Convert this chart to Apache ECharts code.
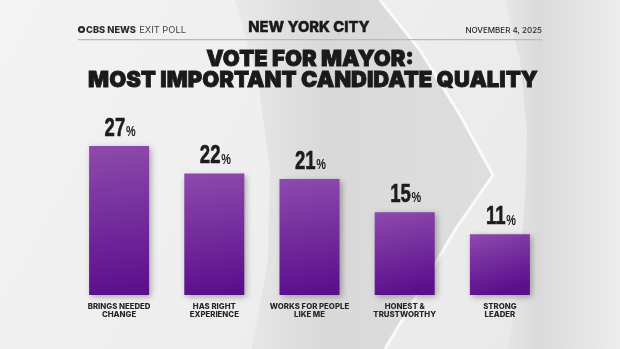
<!DOCTYPE html>
<html>
<head>
<meta charset="utf-8">
<script src="https://cdn.jsdelivr.net/npm/echarts@6/dist/echarts.min.js"></script>
<style>
  html, body { margin: 0; padding: 0; background: #ececec; }
  #chart { width: 620px; height: 349px; }
</style>
</head>
<body>
<div id="chart"></div>
<script>
const categories = ['BRINGS NEEDED\nCHANGE', 'HAS RIGHT\nEXPERIENCE', 'WORKS FOR PEOPLE\nLIKE ME', 'HONEST &\nTRUSTWORTHY', 'STRONG\nLEADER'];
const values = [27, 22, 21, 15, 11];
const titleLines = ['VOTE FOR MAYOR:', 'MOST IMPORTANT CANDIDATE QUALITY'];
const headerCity = 'NEW YORK CITY';
const headerDate = 'NOVEMBER 4, 2025';

function lin(x, y, x2, y2, stops) {
  return { type: 'linear', x: x, y: y, x2: x2, y2: y2,
    colorStops: stops.map(function (s) { return { offset: s[0], color: s[1] }; }) };
}

const chart = echarts.init(document.getElementById('chart'), null, { renderer: 'canvas' });
const titleFont = 'Inter, "Open Sans", sans-serif';
const numFont = '"Liberation Sans", Arial, sans-serif';

chart.setOption({
  backgroundColor: '#ececec',
  animation: false,
  grid: { left: 71.5, right: 72.5, top: 129.4, bottom: 54 },
  xAxis: {
    type: 'category',
    data: categories,
    axisLine: { show: false },
    axisTick: { show: false },
    axisLabel: {
      interval: 0,
      margin: 7,
      fontFamily: titleFont,
      fontWeight: 800,
      fontSize: 7.8,
      lineHeight: 8.5,
      color: '#262626'
    }
  },
  yAxis: { type: 'value', min: 0, max: 30, show: false, splitLine: { show: false } },
  graphic: [
    { type: 'rect', z: -10, shape: { x: 0, y: 0, width: 620, height: 349 },
      style: { fill: lin(0, 0, 1, 1, [[0, '#f3f3f3'], [1, '#e8e8e8']]) } },
    { type: 'polygon', z: -9, shape: { points: [[505,0],[520,60],[527,130],[525,200],[518,280],[508,349],[620,349],[620,0]] } ,
      style: { fill: lin(0, 0, 1, 0, [[0, '#e6e6e6'], [0.3, '#dadada'], [1, '#ececec']]) } },
    { type: 'polygon', z: -9, shape: { points: [[235,0],[380,0],[420,50],[460,115],[493,175],[455,230],[420,290],[385,349],[252,349],[268,260],[270,170],[258,80]] },
      style: { fill: lin(0, 0, 1, 0, [[0, '#e9e9e9'], [0.35, '#d9d9d9'], [1, '#dedede']]) } },
    { type: 'polyline', z: -8, shape: { points: [[380,0],[420,50],[460,115],[493,175],[455,230],[420,290],[385,349]] },
      style: { stroke: '#fafafa', lineWidth: 3 } },
    { type: 'circle', shape: { cx: 81.5, cy: 29.5, r: 3.6 }, style: { fill: '#2a2a2a' } },
    { type: 'circle', shape: { cx: 81.5, cy: 29.5, r: 1.5 }, style: { fill: '#efefef' } },
    { type: 'text', left: 86, top: 24, style: {
        text: '{b|CBS NEWS} {r|EXIT POLL}',
        rich: {
          b: { fontFamily: titleFont, fontWeight: 800, fontSize: 9.3, fill: '#2a2a2a' },
          r: { fontFamily: titleFont, fontWeight: 400, fontSize: 9.3, fill: '#444' }
        } } },
    { type: 'text', left: 248, top: 20, style: {
        text: headerCity, fontFamily: titleFont, fontWeight: 800, fontSize: 14.8, fill: '#1a1a1a',
        stroke: '#1a1a1a', lineWidth: 0.4 } },
    { type: 'text', right: 78, top: 27, style: {
        text: headerDate, fontFamily: titleFont, fontWeight: 500, fontSize: 8, fill: '#2a2a2a' } },
    { type: 'rect', shape: { x: 78, y: 39, width: 464, height: 1.2 }, style: { fill: '#b9b9b9' } },
    { type: 'text', x: 310, y: 59.5, style: {
        text: titleLines[0], align: 'center', verticalAlign: 'middle',
        fontFamily: titleFont, fontWeight: 900, fontSize: 22, fill: '#1a1a1a',
        stroke: '#1a1a1a', lineWidth: 0.8 } },
    { type: 'text', x: 313, y: 80.5, style: {
        text: titleLines[1], align: 'center', verticalAlign: 'middle',
        fontFamily: titleFont, fontWeight: 900, fontSize: 22, fill: '#1a1a1a',
        stroke: '#1a1a1a', lineWidth: 0.8 } }
  ],
  series: [{
    type: 'bar',
    data: values,
    barWidth: 60,
    itemStyle: {
      color: lin(0, 0, 0.3, 1, [[0, '#8e4aad'], [1, '#5c0f8d']]),
      shadowBlur: 6,
      shadowColor: 'rgba(0,0,0,0.3)',
      shadowOffsetX: 2,
      shadowOffsetY: 2
    }
  }, {
    type: 'custom',
    data: values.map(function (v, i) { return [i, v]; }),
    encode: { x: 0, y: 1 },
    z: 5,
    renderItem: function (params, api) {
      const pt = api.coord([api.value(0), api.value(1)]);
      return {
        type: 'text',
        x: pt[0] + 1,
        y: pt[1] - 5,
        scaleX: 0.7,
        style: {
          text: '{n|' + api.value(1) + '}{p|%}',
          align: 'center',
          verticalAlign: 'bottom',
          rich: {
            n: { fontFamily: numFont, fontWeight: 700, fontSize: 26.5, fill: '#1c1c1c', stroke: '#1c1c1c', lineWidth: 0.6, lineHeight: 25 },
            p: { fontFamily: numFont, fontWeight: 700, fontSize: 15.5, fill: '#1c1c1c', lineHeight: 25, padding: [7, 0, 0, 1] }
          }
        }
      };
    }
  }]
});
</script>
</body>
</html>
